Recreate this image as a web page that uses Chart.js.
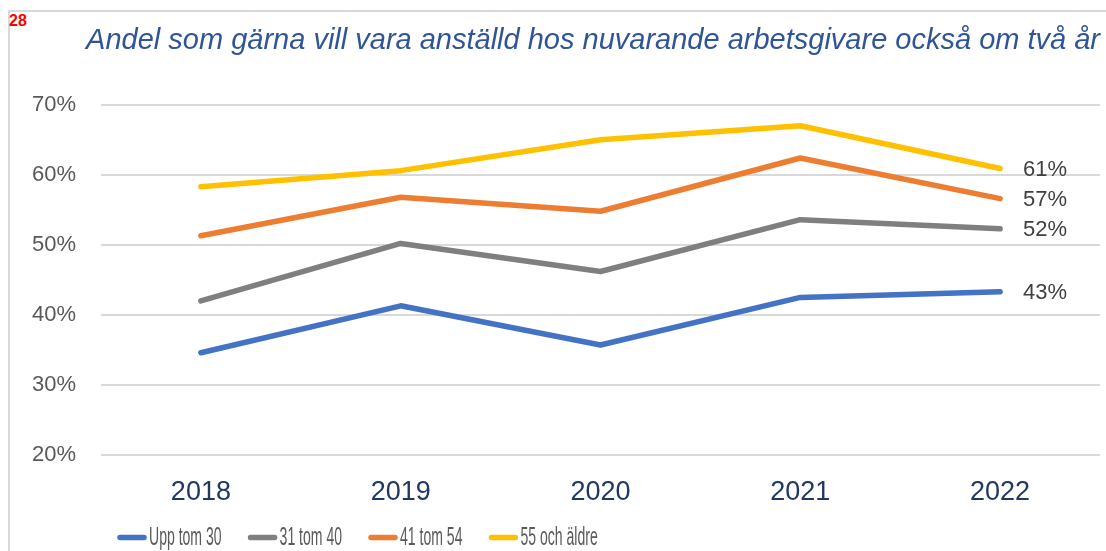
<!DOCTYPE html>
<html>
<head>
<meta charset="utf-8">
<script src="https://cdn.jsdelivr.net/npm/chart.js@4.4.1/dist/chart.umd.min.js"></script>
<style>
  html, body { margin: 0; padding: 0; background: #fff; overflow: hidden; }
  #wrap { position: relative; width: 1106px; height: 551px; }
  #frame { position: absolute; left: 8px; top: 10px; width: 1200px; height: 700px;
           border-left: 2px solid #d9d9d9; border-top: 2px solid #d9d9d9; }
  #pageNo { position: absolute; left: 9px; top: 12px; color: #ff0000;
            font: bold 16px "Liberation Sans", Arial, sans-serif; }
  canvas { position: absolute; left: 0; top: 0; }
</style>
</head>
<body>
<div id="wrap">
  <div id="frame"></div>
  <div id="pageNo">28</div>
  <canvas id="chart" width="1106" height="551"></canvas>
</div>
<script>
const years = ["2018", "2019", "2020", "2021", "2022"];
const seriesNames = ["Upp tom 30", "31 tom 40", "41 tom 54", "55 och äldre"];
const upTo30 = [34.6, 41.3, 35.7, 42.5, 43.3];
const age31to40 = [42.0, 50.2, 46.2, 53.6, 52.3];
const age41to54 = [51.3, 56.8, 54.8, 62.4, 56.6];
const age55plus = [58.3, 60.6, 65.0, 67.0, 60.9];
const yTicks = [20, 30, 40, 50, 60, 70];

const colors = ["#4472c4", "#7f7f7f", "#ed7d31", "#ffc000"];
const values = [upTo30, age31to40, age41to54, age55plus];

// label at the end of each line, like the Excel data label on the last point
const endLabels = {
    id: "endLabels",
    afterDatasetsDraw(chart) {
        const ctx = chart.ctx;
        ctx.save();
        ctx.font = '22px "Liberation Sans", Arial, sans-serif';
        ctx.fillStyle = "#404040";
        ctx.textAlign = "left";
        ctx.textBaseline = "middle";
        chart.data.datasets.forEach((ds, i) => {
            const pts = chart.getDatasetMeta(i).data;
            const last = pts[pts.length - 1];
            const v = ds.data[ds.data.length - 1];
            ctx.fillText(Math.round(v) + "%", last.x + 23, last.y + 1);
        });
        ctx.restore();
    }
};

// the legend in the picture is squeezed sideways, so draw it by hand
const squeezedLegend = {
    id: "squeezedLegend",
    afterDraw(chart) {
        const ctx = chart.ctx;
        const y = 537.5;
        const squeeze = 0.54;
        let x = 117;
        ctx.save();
        ctx.font = '26px "Liberation Sans", Arial, sans-serif';
        ctx.textBaseline = "middle";
        ctx.textAlign = "left";
        chart.data.datasets.forEach(ds => {
            ctx.strokeStyle = ds.borderColor;
            ctx.lineWidth = 5.5;
            ctx.lineCap = "round";
            ctx.beginPath();
            ctx.moveTo(x + 3, y);
            ctx.lineTo(x + 27, y);
            ctx.stroke();
            const tw = ctx.measureText(ds.label).width * squeeze;
            ctx.save();
            ctx.translate(x + 32, y);
            ctx.scale(squeeze, 1);
            ctx.fillStyle = "#595959";
            ctx.fillText(ds.label, 0, 0);
            ctx.restore();
            x += 32 + tw + 26;
        });
        ctx.restore();
    }
};

const datasets = values.map((vals, i) => ({
    label: seriesNames[i],
    data: vals,
    borderColor: colors[i],
    backgroundColor: colors[i],
    borderWidth: 5.5,
    borderCapStyle: "round",
    borderJoinStyle: "round",
    pointRadius: 0,
    tension: 0
}));

new Chart(document.getElementById("chart").getContext("2d"), {
    type: "line",
    data: { labels: years, datasets: datasets },
    options: {
        responsive: false,
        animation: false,
        layout: { padding: { top: 0, right: 6, bottom: 42, left: 0 } },
        plugins: {
            title: {
                display: true,
                align: "end",
                text: "Andel som gärna vill vara anställd hos nuvarande arbetsgivare också om två år",
                color: "#2f5597",
                font: { family: '"Liberation Sans", Arial, sans-serif', size: 29, style: "italic", weight: "normal" },
                padding: { top: 24, bottom: 46 }
            },
            legend: { display: false },
            tooltip: { enabled: false }
        },
        scales: {
            x: {
                offset: true,
                grid: { display: false, drawTicks: false },
                border: { display: false },
                ticks: {
                    color: "#1f3864",
                    padding: 21,
                    font: { family: '"Liberation Sans", Arial, sans-serif', size: 27 }
                },
                afterFit(scale) { scale.height = 54; }
            },
            y: {
                min: 20,
                max: 70,
                afterBuildTicks(scale) { scale.ticks = yTicks.map(v => ({ value: v })); },
                grid: { color: "#d9d9d9", lineWidth: 2, drawTicks: false },
                border: { display: false },
                ticks: {
                    color: "#595959",
                    padding: 25,
                    font: { family: '"Liberation Sans", Arial, sans-serif', size: 22 },
                    callback: v => v + "%"
                },
                afterFit(scale) { scale.width = 101; }
            }
        }
    },
    plugins: [endLabels, squeezedLegend]
});
</script>
</body>
</html>
